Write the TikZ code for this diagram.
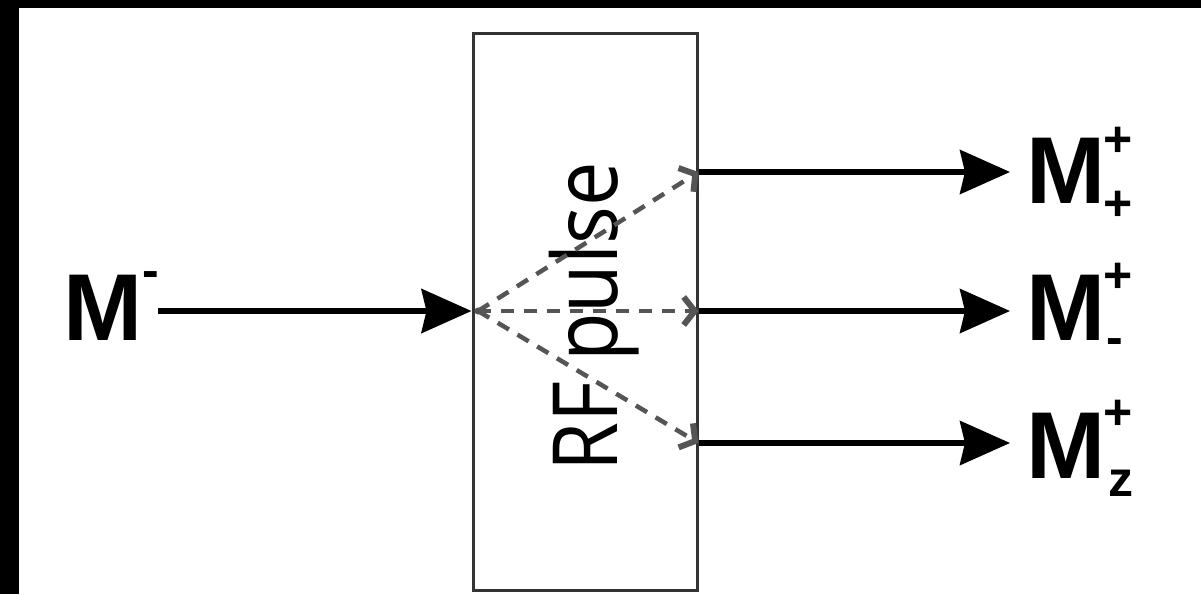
\documentclass[tikz,border=0pt]{standalone}
\usepackage{fontspec}
\setmainfont{Liberation Sans}
\newfontfamily\rffont{Open Sans}
\usetikzlibrary{arrows.meta}
\definecolor{fangray}{HTML}{555555}
\definecolor{boxc}{HTML}{333333}
\begin{document}
\begin{tikzpicture}[x=1pt,y=-1pt,
  lbl/.style={inner sep=0pt, font=\fontsize{95}{95}\selectfont\bfseries, anchor=base west},
  scr/.style={inner sep=0pt, font=\fontsize{50}{50}\selectfont\bfseries},
  solidarrow/.style={line width=5.5pt, -{Stealth[length=50pt,width=44pt,inset=5pt]}},
  fanarrow/.style={line width=4.5pt, draw=fangray, dash pattern=on 13pt off 10pt, -{Straight Barb[length=11pt,width=28pt,line width=6pt]}},
]
\useasboundingbox (0,0) rectangle (1201,594);
\fill[white] (0,0) rectangle (1201,594);
\fill[black] (0,0) rectangle (1201,8);
\fill[black] (0,0) rectangle (19,594);

\node[draw=boxc, line width=3pt, minimum width=224pt, minimum height=556pt, inner sep=0pt] (box) at (585,312) {};
\node[rotate=90, anchor=base, inner sep=0pt, font=\rffont\fontsize{90}{90}\selectfont] (rf) at (617,317) {\scalebox{0.88}[1]{RF pulse}};

% labels
\node[lbl] (min) at (63,340) {M};
\node[scr] (minsup) at (151,280) {-};
\node[lbl] (mpp) at (1026,203) {M};
\node[scr] (mppsup) at (1118,142) {+};
\node[scr] (mppsub) at (1118,206) {+};
\node[lbl] (mpm) at (1026,340) {M};
\node[scr] (mpmsup) at (1118,278) {+};
\node[scr] (mpmsub) at (1115,347) {-};
\node[lbl] (mpz) at (1026,478) {M};
\node[scr] (mpzsup) at (1118,415) {+};
\node[scr] (mpzsub) at (1121,483) {z};

% coordinates
\coordinate (inS) at (158,311);
\coordinate (o) at (478,311);
\coordinate (e1) at (1010,172);
\coordinate (e2) at (1010,311);
\coordinate (e3) at (1010,443);

\draw[solidarrow] (inS) -- (inS -| box.west);
\draw[solidarrow] (e1 -| box.east) -- (e1);
\draw[solidarrow] (e2 -| box.east) -- (e2);
\draw[solidarrow] (e3 -| box.east) -- (e3);

\fill[fangray] (o) circle (3.5pt);
\draw[fanarrow] (o) -- (e1 -| box.east);
\draw[fanarrow] (o) -- (e2 -| box.east);
\draw[fanarrow] (o) -- (e3 -| box.east);
\end{tikzpicture}
\end{document}
